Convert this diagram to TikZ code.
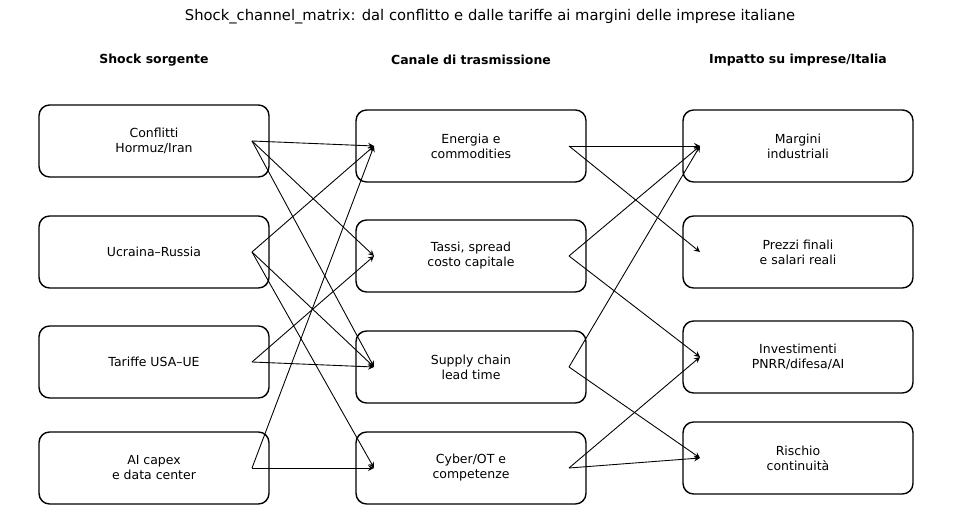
\documentclass[tikz,border=0pt]{standalone}
\usepackage{fontspec}
\setmainfont{DejaVu Sans}
\usetikzlibrary{calc}
\tikzset{
  box/.style={draw, line width=0.8pt, rounded corners=6pt, minimum width=4.6cm,
    minimum height=1.44cm, align=center, font=\fontsize{7.1}{8.5}\selectfont},
  head/.style={font=\fontsize{7.1}{8.5}\selectfont\bfseries},
  link/.style={->, >=stealth, line width=0.5pt}
}
\begin{document}
\begin{tikzpicture}[x=0.02cm, y=-0.02cm]
            % Margins of the page
            \useasboundingbox (0,0) rectangle (980,526);

            % Title and column heads
            \node[font=\fontsize{8.4}{10}\selectfont] (title) at (490,17) {Shock\_channel\_matrix: dal conflitto e dalle tariffe ai margini delle imprese italiane};
            \node[head] (h1) at (154,60) {Shock sorgente};
            \node[head] (h2) at (471,60) {Canale di trasmissione};
            \node[head] (h3) at (798,60) {Impatto su imprese/Italia};

            % Shocks
            \node[box] (s1) at (154,141) {Conflitti\\Hormuz/Iran};
            \node[box] (s2) at (154,252) {Ucraina–Russia};
            \node[box] (s3) at (154,362) {Tariffe USA–UE};
            \node[box] (s4) at (154,468) {AI capex\\e data center};

            % Channels
            \node[box] (c1) at (471,146) {Energia e\\commodities};
            \node[box] (c2) at (471,256) {Tassi, spread\\costo capitale};
            \node[box] (c3) at (471,367) {Supply chain\\lead time};
            \node[box] (c4) at (471,468) {Cyber/OT e\\competenze};

            % Impacts
            \node[box] (i1) at (798,146) {Margini\\industriali};
            \node[box] (i2) at (798,252) {Prezzi finali\\e salari reali};
            \node[box] (i3) at (798,357) {Investimenti\\PNRR/difesa/AI};
            \node[box] (i4) at (798,458) {Rischio\\continuità};

            % Anchor points for the links
            \foreach \n in {1,...,4} {
              \coordinate (s\n o) at ($(s\n.center)+(98,0)$);
              \coordinate (c\n i) at ($(c\n.center)+(-97,0)$);
              \coordinate (c\n o) at ($(c\n.center)+(98,0)$);
              \coordinate (i\n i) at ($(i\n.center)+(-98,0)$);
            }

            % Shock -> channel
            \foreach \a/\b in {1/1,1/2,1/3,2/1,2/3,2/4,3/2,3/3,4/1,4/4}
              \draw[link] (s\a o) -- (c\b i);

            % Channel -> impact
            \foreach \a/\b in {1/1,1/2,2/1,2/3,3/1,3/4,4/3,4/4}
              \draw[link] (c\a o) -- (i\b i);
\end{tikzpicture}
\end{document}
